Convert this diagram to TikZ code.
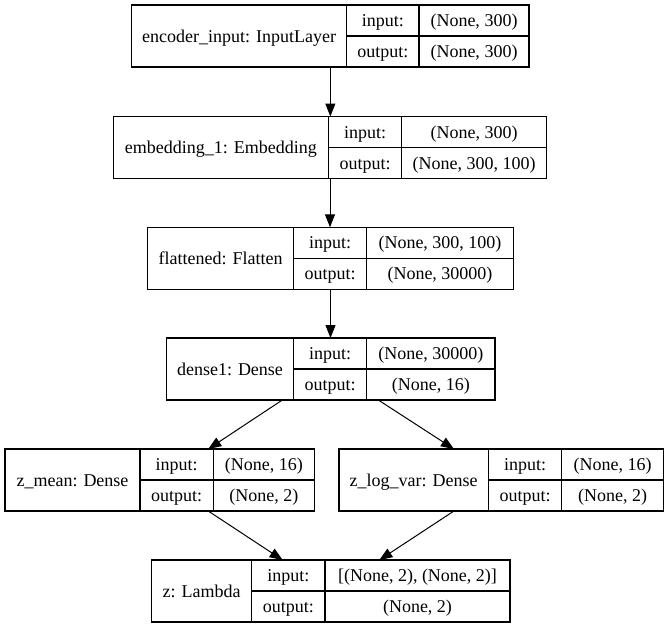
\documentclass[tikz,border=0pt]{standalone}
\usepackage{fontspec}
\setmainfont{Liberation Serif}
\usetikzlibrary{arrows.meta}
\tikzset{
  box/.style={draw, line width=1.2pt, inner sep=0pt, outer sep=0pt, rectangle},
  cell/.style={line width=1.2pt},
  txt/.style={inner sep=0pt, anchor=base, font=\fontsize{18}{20}\selectfont},
  arr/.style={line width=1pt, -{Triangle[length=13pt,width=10pt]}},
}
% name, left, div1, div2, right, top, label, in, out
\newcommand\kerlayer[9]{%
  \node[box, minimum width={(#5-#2)*1pt}, minimum height=62pt, anchor=north west] (#1) at (#2,#6) {};
  \draw[cell] (#3,#6) -- (#3,{#6+62});
  \draw[cell] (#4,#6) -- (#4,{#6+62});
  \draw[cell] (#3,{#6+31}) -- (#5,{#6+31});
  \node[txt] (#1-l) at ({(#2+#3)/2},{#6+31+6}) {#7};
  \node[txt] (#1-il) at ({(#3+#4)/2},{#6+15.5+6}) {input:};
  \node[txt] (#1-ol) at ({(#3+#4)/2},{#6+46.5+6}) {output:};
  \node[txt] (#1-iv) at ({(#4+#5)/2},{#6+15.5+6}) {#8};
  \node[txt] (#1-ov) at ({(#4+#5)/2},{#6+46.5+6}) {#9};
}
\begin{document}
\begin{tikzpicture}[x=1pt,y=-1pt]
\useasboundingbox (0,0) rectangle (669,627);
\kerlayer{enc}{131.7}{346.7}{419}{529}{5}{encoder\_input: InputLayer}{(None, 300)}{(None, 300)}
\kerlayer{emb}{113.3}{328.3}{401.7}{546.7}{116.5}{embedding\_1: Embedding}{(None, 300)}{(None, 300, 100)}
\kerlayer{flat}{147.7}{293.3}{366.7}{513.3}{227.3}{flattened: Flatten}{(None, 300, 100)}{(None, 30000)}
\kerlayer{dense}{166.7}{293.3}{366.7}{495}{338}{dense1: Dense}{(None, 30000)}{(None, 16)}
\kerlayer{zmean}{5}{140}{213.3}{314.3}{449}{z\_mean: Dense}{(None, 16)}{(None, 2)}
\kerlayer{zlog}{339}{488.3}{561.7}{663.3}{449}{z\_log\_var: Dense}{(None, 16)}{(None, 2)}
\kerlayer{z}{151.7}{251.7}{325}{510}{560}{z: Lambda}{[(None, 2), (None, 2)]}{(None, 2)}
\draw[arr] (enc.south) -- (enc.south |- emb.north);
\draw[arr] (emb.south) -- (emb.south |- flat.north);
\draw[arr] (flat.south) -- (flat.south |- dense.north);
\draw[arr] ([xshift=-48.5pt]dense.south) -- ([xshift=48.6pt]zmean.north);
\draw[arr] ([xshift=47.5pt]dense.south) -- ([xshift=-47.2pt]zlog.north);
\draw[arr] ([xshift=48.6pt]zmean.south) -- ([xshift=-48.2pt]z.north);
\draw[arr] ([xshift=-47.2pt]zlog.south) -- ([xshift=48.5pt]z.north);
\end{tikzpicture}
\end{document}
